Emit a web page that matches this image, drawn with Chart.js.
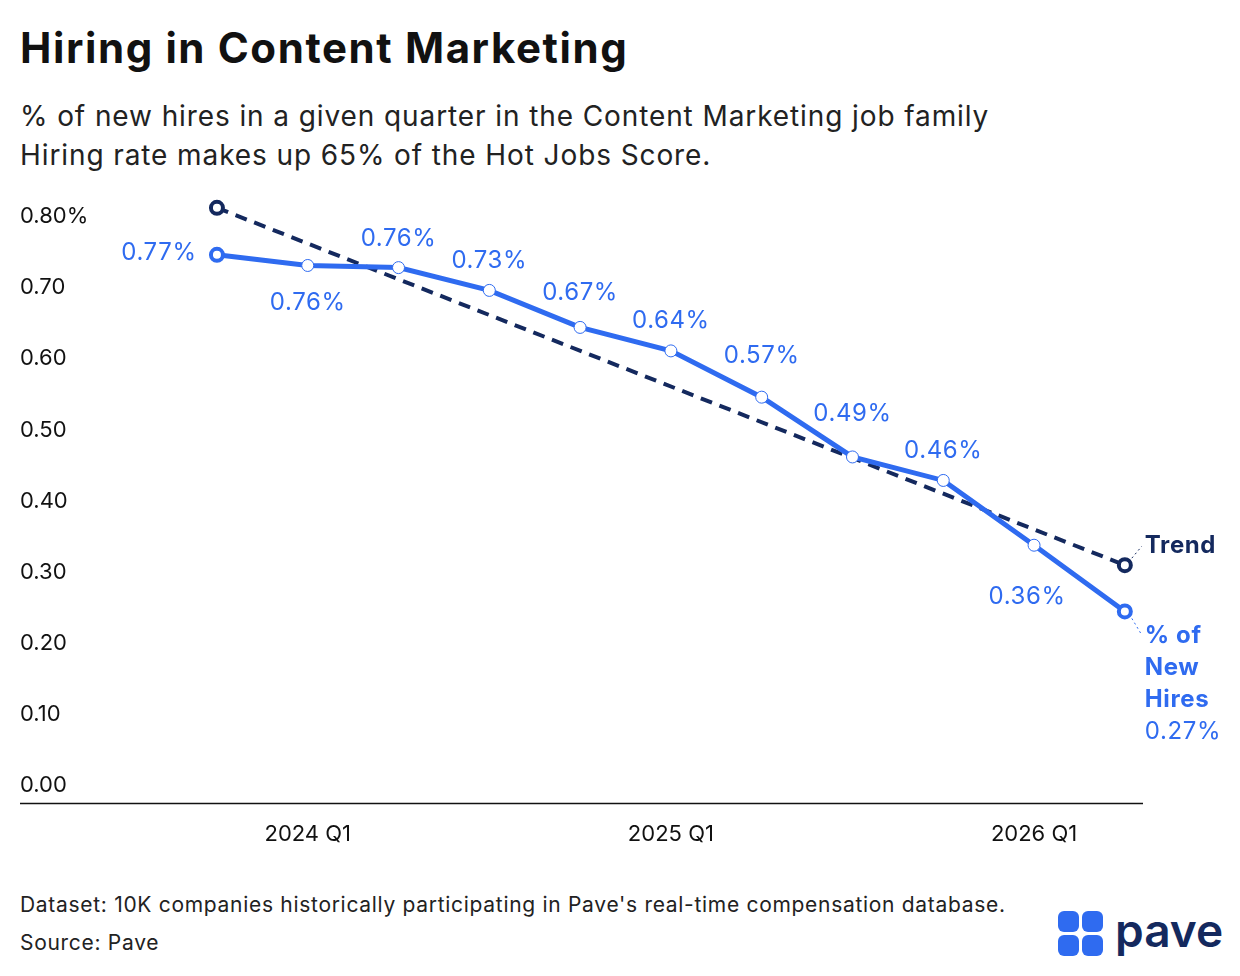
<!DOCTYPE html>
<html><head><meta charset="utf-8">
<script src="https://cdn.jsdelivr.net/npm/chart.js@4"></script>
<style>
body{margin:0;width:1240px;height:976px;background:#fff;font-family:Inter,"Noto Sans",sans-serif;position:relative;overflow:hidden;color:#111}
#t{position:absolute;left:20px;top:22px;font-size:42px;font-weight:700;letter-spacing:1.6px}
#s{position:absolute;left:20px;top:97px;font-size:28px;line-height:39px;color:#222;letter-spacing:0.9px}
#cw{position:absolute;left:0;top:169px;width:1240px;height:701px}
#f{position:absolute;left:20px;top:886px;font-size:21px;line-height:38px;color:#222;letter-spacing:0.7px}
#logo{position:absolute;left:1058px;top:911px;display:flex;align-items:center}
.g{display:grid;grid-template-columns:21px 21px;gap:3px;margin-right:12px}
.g div{width:21px;height:21px;background:#2f6bf0;border-radius:6px}
#logo span{font-size:46px;font-weight:600;color:#14295e;letter-spacing:0px;line-height:40px;margin-top:-8px}
</style></head><body>
<div id="t">Hiring in Content Marketing</div>
<div id="s">% of new hires in a given quarter in the Content Marketing job family<br>Hiring rate makes up 65% of the Hot Jobs Score.</div>
<div id="cw"><canvas id="c"></canvas></div>
<div id="f">Dataset: 10K companies historically participating in Pave's real-time compensation database.<br>Source: Pave</div>
<div id="logo"><div class="g"><div></div><div></div><div></div><div></div></div><span>pave</span></div>
<script>
const quarters=["2023 Q4","2024 Q1","2024 Q2","2024 Q3","2024 Q4","2025 Q1","2025 Q2","2025 Q3","2025 Q4","2026 Q1","2026 Q2"];
const hires=[0.746,0.731,0.728,0.696,0.644,0.611,0.546,0.462,0.429,0.338,0.245];
const hireLabels=["0.77%","0.76%","0.76%","0.73%","0.67%","0.64%","0.57%","0.49%","0.46%","0.36%","0.27%"];
const trend=[0.812,0.31];
const yTicks=[0,0.1,0.2,0.3,0.4,0.5,0.6,0.7,0.8];
const xTickIdx=[1,5,9];
const BLUE="#2f6bf0",NAVY="#14295e";
const n=hires.length;
const labelPos=[[-58,-2],[0,37],[0,-29],[0,-30],[0,-35],[0,-30],[0,-41],[0,-43],[0,-30],[-7,52]];
const plug={id:'lbl',afterDatasetsDraw(ch){
 const c=ch.ctx,m=ch.getDatasetMeta(0).data;
 c.save();c.letterSpacing='0.6px';c.font='24px Inter';c.fillStyle=BLUE;c.textAlign='center';c.textBaseline='middle';
 labelPos.forEach((o,i)=>c.fillText(hireLabels[i],m[i].x+o[0],m[i].y+o[1]));
 const tm=ch.getDatasetMeta(1).data[1];const hm=m[n-1];
 c.textAlign='left';c.font='bold 24px Inter';c.fillStyle=NAVY;c.fillText("Trend",tm.x+20,tm.y-19);
 c.fillStyle=BLUE;["% of","New","Hires"].forEach((t,k)=>c.fillText(t,hm.x+20,hm.y+24+k*32));
 c.font='24px Inter';c.fillText(hireLabels[n-1],hm.x+20,hm.y+120);
 c.setLineDash([2,3]);c.lineWidth=1;
 c.strokeStyle=NAVY;c.beginPath();c.moveTo(tm.x+7,tm.y-7);c.lineTo(tm.x+17,tm.y-19);c.stroke();
 c.strokeStyle=BLUE;c.beginPath();c.moveTo(hm.x+7,hm.y+7);c.lineTo(hm.x+16,hm.y+22);c.stroke();
 c.setLineDash([]);c.strokeStyle='#111';c.lineWidth=1.5;const a=ch.chartArea;
 c.beginPath();c.moveTo(20,a.bottom);c.lineTo(a.right,a.bottom);c.stroke();
 c.restore();}};
new Chart(document.getElementById('c'),{type:'line',
data:{datasets:[
 {data:hires.map((v,i)=>({x:i,y:v})),borderColor:BLUE,borderWidth:5,backgroundColor:'#fff',
  pointRadius:6,pointBorderWidth:hires.map((v,i)=>i==0||i==n-1?4:1),pointBorderColor:BLUE,order:1},
 {data:[{x:0,y:trend[0]},{x:n-1,y:trend[1]}],borderColor:NAVY,borderWidth:4,borderDash:[12,8],backgroundColor:'#fff',
  pointRadius:6,pointBorderWidth:4,pointBorderColor:NAVY,order:2}]},
options:{responsive:true,maintainAspectRatio:false,animation:false,
 layout:{padding:{left:20,right:97,top:0,bottom:4}},
 plugins:{legend:{display:false},tooltip:{enabled:false}},
 scales:{
  x:{type:'linear',min:-1.2,max:10.2,grid:{display:false,drawTicks:false},border:{display:false},
   afterBuildTicks:s=>{s.ticks=xTickIdx.map(v=>({value:v}))},
   ticks:{padding:18,color:'#111',font:{size:22,family:'Inter'},callback:v=>quarters[v]}},
  y:{min:-0.025,max:0.848,grid:{display:false,drawTicks:false},border:{display:false},
   afterBuildTicks:s=>{s.ticks=yTicks.map(v=>({value:v}))},
   afterFit:s=>{s.width=88},
   ticks:{crossAlign:'far',padding:0,color:'#111',font:{size:22,family:'Inter'},callback:v=>v.toFixed(2)+(v>0.79?'%':'')}}}},
plugins:[plug]});
</script></body></html>
